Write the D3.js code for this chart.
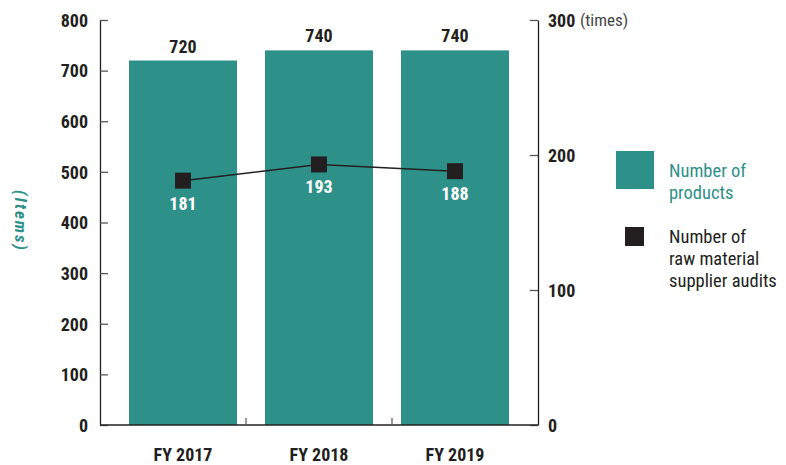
<!DOCTYPE html>
<html><head><meta charset="utf-8">
<script src="https://cdn.jsdelivr.net/npm/d3@7"></script>
<style>
body{margin:0;background:#fff;}
svg{display:block;}
.num{font-family:"Roboto Condensed","Liberation Sans Narrow","DejaVu Sans Condensed",Roboto,sans-serif;font-weight:700;}
.reg{font-family:"Roboto Condensed","Liberation Sans Narrow","DejaVu Sans Condensed",Roboto,sans-serif;font-weight:400;}
</style></head>
<body>
<svg id="c" width="786" height="465"></svg>
<script>
const categories = ["FY 2017","FY 2018","FY 2019"];
const products = [720, 740, 740];
const audits = [181, 193, 188];
const leftTicks = [0,100,200,300,400,500,600,700,800];
const rightTicks = [0,100,200,300];
const legendItems = ["Number of|products","Number of|raw material|supplier audits"];

const teal = "#2e9189", dark = "#231f20";
const svg = d3.select("#c");
const L = 100, R = 538, T = 20, B = 425;

const x = d3.scaleBand().domain(categories).range([115, 523]).paddingInner(0.206).paddingOuter(0.103);
const yL = d3.scaleLinear().domain([0, 800]).range([B, T]);
const yR = d3.scaleLinear().domain([0, 300]).range([B, T]);

// bars
svg.selectAll("rect.bar").data(products).join("rect")
  .attr("x", (d,i)=>x(categories[i])).attr("width", x.bandwidth())
  .attr("y", d=>yL(d)).attr("height", d=>B - yL(d)).attr("fill", teal);

svg.selectAll("text.bv").data(products).join("text").attr("class","num")
  .attr("x",(d,i)=>x(categories[i])+x.bandwidth()/2).attr("y", d=>yL(d)-8)
  .attr("text-anchor","middle").attr("font-size",18).attr("fill",dark).text(d=>d);

// left axis
const gL = svg.append("g").attr("transform",`translate(${L},0)`)
  .call(d3.axisLeft(yL).tickValues(leftTicks).tickSize(-8).tickPadding(12).tickSizeOuter(0));
gL.select(".domain").attr("stroke",dark).attr("stroke-width",1.3);
gL.selectAll(".tick line").attr("stroke","#555").attr("stroke-width",1.3);
gL.selectAll(".tick text").attr("class","num").attr("font-size",18).attr("fill",dark).attr("dy","0.35em");

// right axis
const gR = svg.append("g").attr("transform",`translate(${R},0)`)
  .call(d3.axisRight(yR).tickValues(rightTicks).tickSize(-8).tickPadding(10).tickSizeOuter(0));
gR.select(".domain").attr("stroke",dark).attr("stroke-width",1.3);
gR.selectAll(".tick line").attr("stroke","#555").attr("stroke-width",1.3);
gR.selectAll(".tick text").attr("class","num").attr("font-size",18).attr("fill",dark).attr("dy","0.35em");
svg.append("text").attr("class","reg").attr("x",R+42).attr("y",yR(300)).attr("dy","0.35em")
  .attr("font-size",17).attr("fill","#444").text("(times)");

// bottom axis line
svg.append("line").attr("x1",L).attr("x2",R).attr("y1",B).attr("y2",B).attr("stroke",dark).attr("stroke-width",1.3);
[1,2].forEach(k=>{
  const xx = L + (R-L)*k/3;
  svg.append("line").attr("x1",xx).attr("x2",xx).attr("y1",B).attr("y2",B-7).attr("stroke","#555").attr("stroke-width",1.2);
});
svg.selectAll("text.cat").data(categories).join("text").attr("class","num")
  .attr("x",d=>x(d)+x.bandwidth()/2).attr("y",461).attr("text-anchor","middle")
  .attr("font-size",18).attr("fill",dark).text(d=>d);

// y label
svg.append("text").attr("class","num").attr("transform","translate(15,221) rotate(90)")
  .attr("text-anchor","middle").attr("font-size",17).attr("font-style","italic")
  .attr("fill",teal).attr("letter-spacing",2).text("(Items)");

// line
const cx = (d,i)=>x(categories[i])+x.bandwidth()/2;
svg.append("path").datum(audits).attr("fill","none").attr("stroke",dark).attr("stroke-width",1.5)
  .attr("d", d3.line().x(cx).y(d=>yR(d)));
svg.selectAll("rect.m").data(audits).join("rect")
  .attr("x",(d,i)=>cx(d,i)-8).attr("y",d=>yR(d)-8).attr("width",16).attr("height",16).attr("fill",dark);
svg.selectAll("text.lv").data(audits).join("text").attr("class","num")
  .attr("x",cx).attr("y",d=>yR(d)+29).attr("text-anchor","middle")
  .attr("font-size",18).attr("fill","#fff").text(d=>d);

// legend
svg.append("rect").attr("x",616).attr("y",151).attr("width",38).attr("height",38).attr("fill",teal);
svg.append("rect").attr("x",625).attr("y",227).attr("width",19).attr("height",19).attr("fill",dark);
const lg = [{y:177, c:teal},{y:243, c:dark}];
legendItems.forEach((s,i)=>{
  const t = svg.append("text").attr("class","reg").attr("x",669).attr("y",lg[i].y)
    .attr("font-size",18.5).attr("fill",lg[i].c);
  s.split("|").forEach((ln,j)=>t.append("tspan").attr("x",669).attr("dy",j?22:0).text(ln));
});
</script>
</body></html>
